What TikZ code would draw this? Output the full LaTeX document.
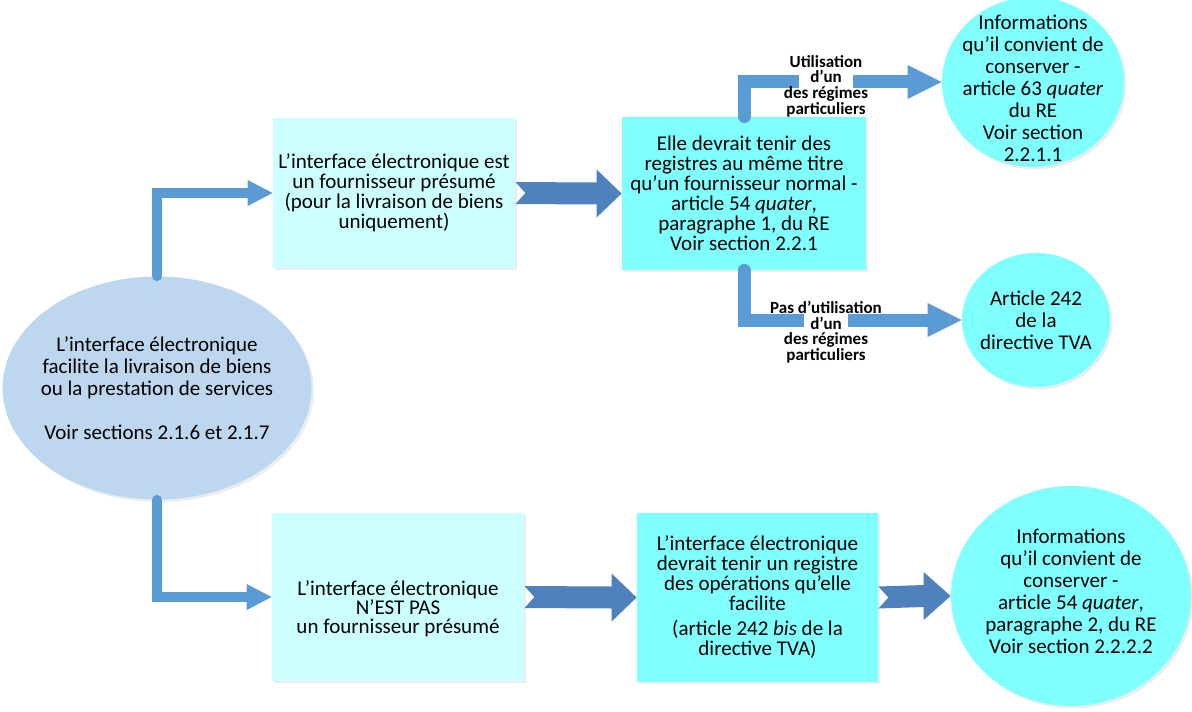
\documentclass[tikz,border=0pt]{standalone}
\usepackage{fontspec}
\setmainfont{Carlito}
\usetikzlibrary{shapes.geometric, arrows.meta, calc, shadows}

\definecolor{ellblue}{RGB}{189,215,238}
\definecolor{paleaqua}{RGB}{204,255,255}
\definecolor{brightaqua}{RGB}{128,255,255}
\definecolor{linkblue}{RGB}{91,155,213}
\definecolor{blockblue}{RGB}{79,129,189}

\tikzset{
	softshadow/.style={drop shadow={shadow xshift=1.2pt, shadow yshift=-1.2pt, opacity=0.15}},
	boxtext/.style={font=\fontsize{10.5}{10}\selectfont, align=center},
	roundtext/.style={font=\fontsize{10.5}{11}\selectfont, align=center},
	paleblock/.style={rectangle, fill=paleaqua, inner sep=0pt, boxtext, softshadow},
	aquablock/.style={rectangle, fill=brightaqua, inner sep=0pt, boxtext, softshadow},
	bubble/.style={ellipse, fill=brightaqua, inner sep=0pt, softshadow},
	elbow/.style={draw=linkblue, line width=5pt, line cap=round, -{Triangle[length=12.5pt, width=13pt, line width=0pt]}},
	elbowwide/.style={draw=linkblue, line width=6.5pt, line cap=round, -{Triangle[length=17pt, width=17pt, line width=0pt]}},
	choice/.style={font=\fontsize{8.5}{7.8}\selectfont\bfseries, align=center, fill=white}
}

\newcommand{\blockarrow}[3]{%
	\fill[blockblue] ($(#1.east)+(0,-11)$) -- ($(#2.west)+(-#3,-11)$) -- ($(#2.west)+(-#3,-24)$) -- (#2.west)
		-- ($(#2.west)+(-#3,24)$) -- ($(#2.west)+(-#3,11)$) -- ($(#1.east)+(0,11)$) -- ($(#1.east)+(10,0)$) -- cycle;}

\begin{document}
\begin{tikzpicture}[x=0.5pt, y=-0.5pt]
	\useasboundingbox (0,0) rectangle (1192,711);
	\node[ellipse, fill=ellblue, inner sep=0pt, minimum width=154.5pt, minimum height=111.5pt, softshadow,
		label={[roundtext]center:{L’interface électronique\\facilite la livraison de biens\\ou la prestation de services\\[11pt]Voir sections 2.1.6 et 2.1.7}}] (start) at (157,388) {};
	\node[paleblock, minimum width=121pt, minimum height=75pt] (presumed) at (394,193) {L’interface électronique est\\un fournisseur présumé\\(pour la livraison de biens\\uniquement)};
	\node[aquablock, minimum width=122pt, minimum height=76.5pt] (records) at (744,193.5) {Elle devrait tenir des\\registres au même titre\\qu’un fournisseur normal -\\article 54 \textit{quater},\\paragraphe 1, du RE\\Voir section 2.2.1};
	\node[bubble, minimum width=91pt, minimum height=85pt,
		label={[roundtext, yshift=-3pt]center:{Informations\\qu’il convient de\\conserver -\\article 63 \textit{quater}\\du RE\\Voir section\\2.2.1.1}}] (special) at (1033,82) {};
	\node[bubble, minimum width=74pt, minimum height=67pt,
		label={[roundtext]center:{Article 242\\de la\\directive TVA}}] (art242) at (1036,320) {};
	\node[paleblock, minimum width=126pt, minimum height=84pt,
		label={[boxtext, font=\fontsize{10.5}{9.5}\selectfont, yshift=-6pt]center:{L’interface électronique\\N’EST PAS\\un fournisseur présumé}}] (notpresumed) at (398,597) {};
	\node[aquablock, minimum width=120.5pt, minimum height=84.5pt] (register) at (757.5,597.5) {L’interface électronique\\devrait tenir un registre\\des opérations qu’elle\\facilite\\[2.5pt](article 242 \textit{bis} de la\\directive TVA)};
	\node[bubble, minimum width=120pt, minimum height=110pt,
		label={[roundtext, yshift=2.5pt]center:{Informations\\qu’il convient de\\conserver -\\article 54 \textit{quater},\\paragraphe 2, du RE\\Voir section 2.2.2.2}}] (keep) at (1071,596) {};

	\blockarrow{presumed}{records}{25}
	\blockarrow{notpresumed}{register}{25}
	\blockarrow{register}{keep}{27}

	\draw[elbow] (start.north) |- (presumed.west);
	\draw[elbow] (start.south) |- (notpresumed.west);
	\draw[elbowwide] (records.north) |- (special.west);
	\draw[elbowwide] (records.south) |- (art242.west);

	\node[choice, inner xsep=-7.6pt, inner ysep=-6pt] (used) at (826,86) {Utilisation\\d’un\\des régimes\\particuliers};
	\node[choice, inner xsep=-17pt, inner ysep=-4pt] (notused) at (826,332) {Pas d’utilisation\\d’un\\des régimes\\particuliers};
\end{tikzpicture}
\end{document}
